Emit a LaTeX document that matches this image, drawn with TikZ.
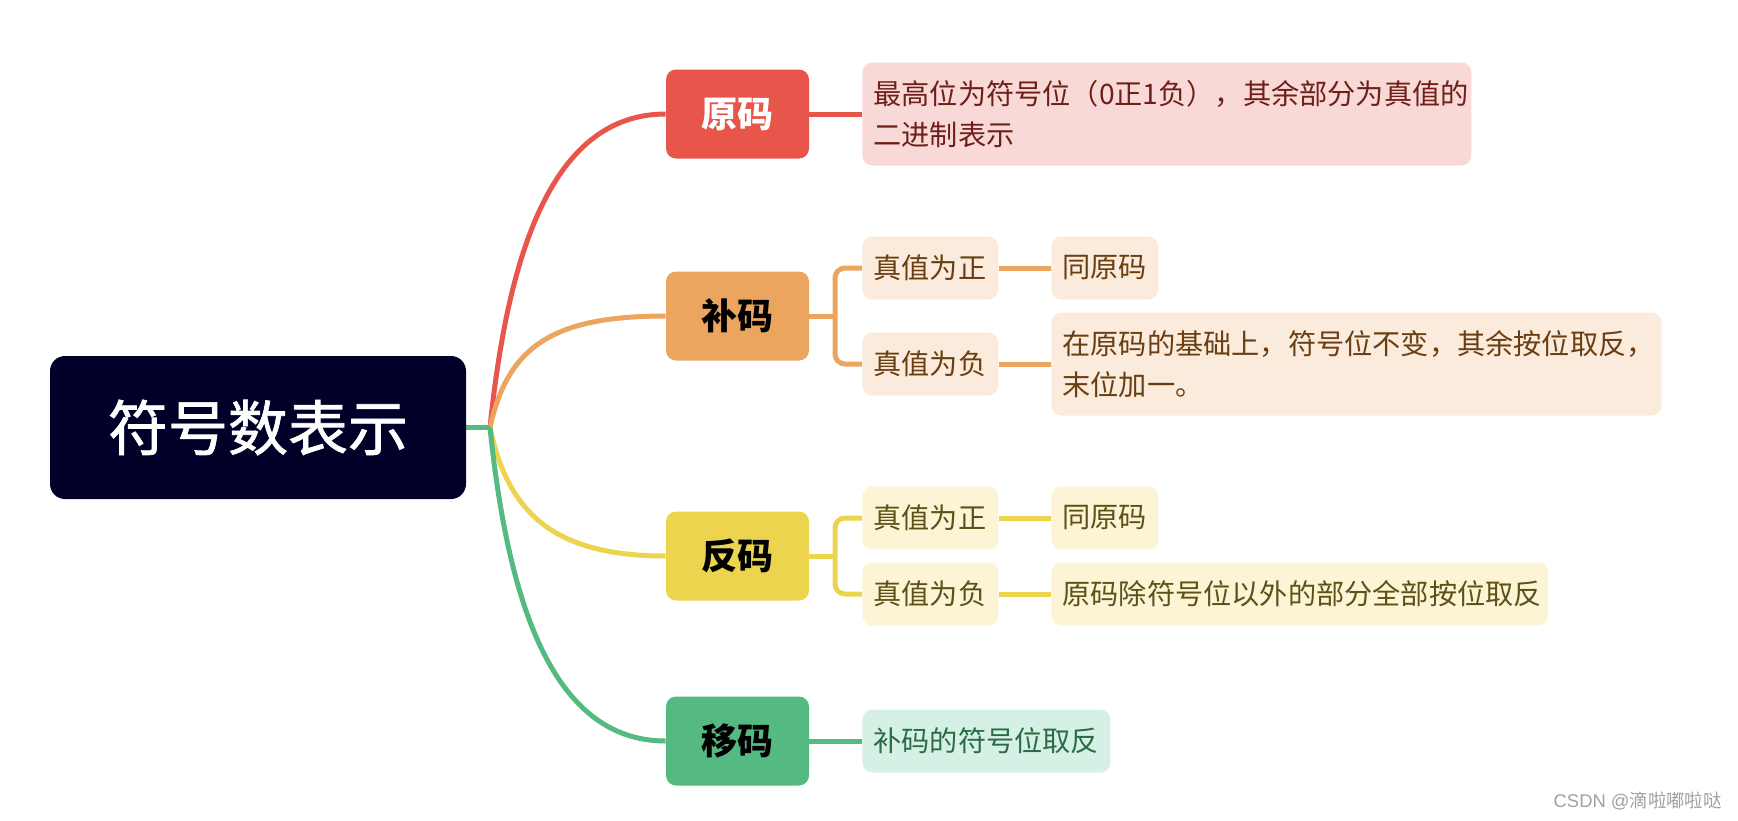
\documentclass[tikz,border=0pt]{standalone}
\usepackage{fontspec}
\setmainfont{Noto Sans CJK SC}
\newfontfamily\rootfont{Noto Sans CJK SC}[FakeBold=1.2]
\newfontfamily\wmfont{Liberation Sans}
\newfontfamily\wmcjk{Noto Sans CJK SC}
\usetikzlibrary{calc,backgrounds}
\definecolor{rootc}{RGB}{0,0,40}
\definecolor{redc}{HTML}{E8554A}
\definecolor{orac}{HTML}{EBA55E}
\definecolor{yelc}{HTML}{EDD44E}
\definecolor{grec}{HTML}{55BA82}
\definecolor{redl}{HTML}{F8D9D8}
\definecolor{oral}{HTML}{FAEBDC}
\definecolor{yell}{HTML}{FCF4D5}
\definecolor{grel}{HTML}{D5F1E5}
\definecolor{redt}{HTML}{6E1F17}
\definecolor{orat}{HTML}{6B3E12}
\definecolor{yelt}{HTML}{5C5218}
\definecolor{gret}{HTML}{2B6B46}
\definecolor{wmc}{HTML}{A0A0A0}
\begin{document}
\begin{tikzpicture}[x=0.5pt,y=-0.5pt,
  rootbox/.style={fill=rootc, text=white, rounded corners=7.5pt, minimum width=208pt, minimum height=71.5pt, inner sep=0pt, font=\rootfont\fontsize{30}{36}\selectfont},
  branchbox/.style={rounded corners=5pt, minimum width=71.5pt, minimum height=44.5pt, inner sep=0pt, font=\fontsize{18}{22}\selectfont\bfseries},
  leaf/.style={anchor=west, rounded corners=5pt, minimum height=31.5pt, inner xsep=5.5pt, inner ysep=0pt, align=left, font=\fontsize{14.1}{20.5}\selectfont},
  conn/.style={line width=2.5pt},
  bracket/.style={line width=2.5pt, rounded corners=5pt},
]
\useasboundingbox (0,0) rectangle (1738,820);

% root and hub
\node[rootbox] (root) at (258,427.5) {符号数表示};
\coordinate (hub) at (490,427.5);

% branch boxes
\node[branchbox, fill=redc, text=white] (yuan) at (737.5,114) {原码};
\node[branchbox, fill=orac, text=black] (bu) at (737.5,316) {补码};
\node[branchbox, fill=yelc, text=black] (fan) at (737.5,556) {反码};
\node[branchbox, fill=grec, text=black] (yi) at (737.5,741) {移码};

% leaves
\node[leaf, fill=redl, text=redt, text width=293.5pt, minimum height=51.5pt] (yuanc) at (862,114) {最高位为符号位（0正1负），其余部分为真值的\\二进制表示};

\node[leaf, fill=oral, text=orat, text width=57pt] (bupos) at (862,268) {真值为正};
\node[leaf, fill=oral, text=orat, text width=42.5pt] (buposg) at (1051,268) {同原码};
\node[leaf, fill=oral, text=orat, text width=57pt] (buneg) at (862,364) {真值为负};
\node[leaf, fill=oral, text=orat, text width=294pt, minimum height=51.5pt] (bunegg) at (1051,364) {在原码的基础上，符号位不变，其余按位取反，\\末位加一。};

\node[leaf, fill=yell, text=yelt, text width=57pt] (fanpos) at (862,518) {真值为正};
\node[leaf, fill=yell, text=yelt, text width=42.5pt] (fanposg) at (1051,518) {同原码};
\node[leaf, fill=yell, text=yelt, text width=57pt] (fanneg) at (862,594) {真值为负};
\node[leaf, fill=yell, text=yelt, text width=237.5pt] (fannegg) at (1051,594) {原码除符号位以外的部分全部按位取反};

\node[leaf, fill=grel, text=gret, text width=113pt] (yic) at (862,741) {补码的符号位取反};

% watermark
\node[anchor=east, text=wmc, inner sep=0pt, font=\fontsize{9.2}{11}\selectfont] (wm) at (1722,801) {\wmfont CSDN @\wmcjk 滴啦嘟啦哒};

% connectors (behind boxes)
\begin{pgfonlayer}{background}
  \coordinate (bub) at (835,316);
  \coordinate (fanb) at (835,556);
  \draw[conn, redc] (hub) .. controls ($(hub)!0.55!(hub|-yuan.west)+(17.7,0)$) and ($(yuan.west)!0.65!(hub|-yuan.west)$) .. (yuan.west);
  \draw[conn, orac] (hub) .. controls ($(hub)!0.72!(hub|-bu.west)+(17.7,0)$) and ($(bu.west)!0.65!(hub|-bu.west)$) .. (bu.west);
  \draw[conn, yelc] (hub) .. controls ($(hub)!0.65!(hub|-fan.west)+(17.7,0)$) and ($(fan.west)!0.65!(hub|-fan.west)$) .. (fan.west);
  \draw[conn, grec] (hub) .. controls ($(hub)!0.55!(hub|-yi.west)+(17.7,0)$) and ($(yi.west)!0.65!(hub|-yi.west)$) .. (yi.west);
  \draw[conn, grec] (root.east) -- (hub);

  \draw[conn, redc] (yuan.east) -- (yuanc.west);

  \draw[conn, orac] (bu.east) -- (bub);
  \draw[bracket, orac] (bupos.west) -| (bub) |- (buneg.west);
  \draw[conn, orac] (bupos.east) -- (buposg.west);
  \draw[conn, orac] (buneg.east) -- (bunegg.west);

  \draw[conn, yelc] (fan.east) -- (fanb);
  \draw[bracket, yelc] (fanpos.west) -| (fanb) |- (fanneg.west);
  \draw[conn, yelc] (fanpos.east) -- (fanposg.west);
  \draw[conn, yelc] (fanneg.east) -- (fannegg.west);

  \draw[conn, grec] (yi.east) -- (yic.west);
\end{pgfonlayer}
\end{tikzpicture}
\end{document}
